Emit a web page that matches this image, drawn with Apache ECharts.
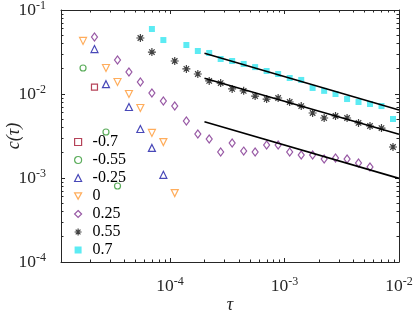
<!DOCTYPE html>
<html><head><meta charset="utf-8">
<script src="https://cdn.jsdelivr.net/npm/echarts@6/dist/echarts.min.js"></script>
<style>html,body{margin:0;padding:0;background:#fff}#c{width:415px;height:312px}</style>
</head><body><div id="c"></div>
<script>
// tau values (x), shared by all series
const tau = [1.74e-5,2.19e-5,2.76e-5,3.48e-5,4.38e-5,5.51e-5,6.95e-5,8.75e-5,1.10e-4,1.39e-4,1.75e-4,2.20e-4,2.77e-4,3.49e-4,4.40e-4,5.54e-4,6.98e-4,8.80e-4,1.11e-3,1.40e-3,1.76e-3,2.22e-3,2.79e-3,3.52e-3,4.43e-3,5.58e-3,7.03e-3,8.86e-3];
const N = null;
const c_m070 = [N,1.21e-2];
const c_m055 = [2.04e-2,N,3.53e-3,8.03e-4];
const c_m025 = [N,3.43e-2,1.31e-2,N,7.00e-3,3.83e-3,2.28e-3,1.09e-3];
const c_000  = [4.28e-2,N,2.04e-2,1.39e-2,1.0e-2,6.81e-3,3.44e-3,2.68e-3,6.62e-4];
const c_025  = [N,4.77e-2,N,2.54e-2,1.83e-2,1.39e-2,1.03e-2,8.26e-3,7.19e-3,4.77e-3,3.34e-3,2.91e-3,2.04e-3,2.61e-3,2.09e-3,2.04e-3,2.47e-3,2.47e-3,2.04e-3,1.88e-3,1.88e-3,1.68e-3,1.73e-3,1.68e-3,1.51e-3,1.35e-3];
const c_055  = [N,N,N,N,N,4.64e-2,3.16e-2,N,2.47e-2,1.99e-2,1.73e-2,1.43e-2,1.35e-2,1.15e-2,1.09e-2,9.46e-3,8.71e-3,8.96e-3,8.03e-3,7.19e-3,5.94e-3,5.18e-3,5.47e-3,5.18e-3,4.52e-3,4.16e-3,3.93e-3,2.34e-3];
const c_070  = [N,N,N,N,N,N,5.94e-2,4.39e-2,N,3.83e-2,3.25e-2,3.08e-2,2.61e-2,2.47e-2,2.28e-2,2.09e-2,1.88e-2,1.73e-2,1.55e-2,1.47e-2,1.18e-2,1.09e-2,1.0e-2,8.71e-3,8.03e-3,7.60e-3,7.19e-3,5.04e-3];
// power-law fit lines
const fitX = [2.0e-4, 1.0e-2];
const fitTop = [3.05e-2, 6.45e-3];
const fitMid = [1.54e-2, 3.31e-3];
const fitBot = [4.68e-3, 9.9e-4];
// tick values
const xMajor = [1e-4, 1e-3, 1e-2];
const yMajor = [1e-4, 1e-3, 1e-2, 1e-1];
const xMin = 1.117e-5, xMax = 1e-2, yMin = 1e-4, yMax = 1e-1;

function minors(lo, hi) {
  const out = [];
  for (let e = -6; e <= 0; e++) for (let m = 2; m <= 9; m++) {
    const v = m * Math.pow(10, e);
    if (v > lo * 1.0001 && v < hi * 0.9999) out.push(v);
  }
  return out;
}
function pairs(arr) {
  const out = [];
  arr.forEach((v, i) => { if (v !== null && v !== undefined) out.push([tau[i], v]); });
  return out;
}
function sup(v) {
  const e = Math.round(Math.log10(v));
  return '{b|10}{s|' + e + '}';
}
const AX = '#262626';
const rich = {
  b: {fontFamily: 'Liberation Serif', fontSize: 17.5, color: AX, lineHeight: 20},
  s: {fontFamily: 'Liberation Serif', fontSize: 12, color: AX, verticalAlign: 'top', lineHeight: 10}
};
function axis(kind, pos, min, max, vals, isMajor, labels) {
  return {
    type: 'log', logBase: 10, position: pos, min: min, max: max,
    axisLine: {show: isMajor, lineStyle: {color: AX, width: 1}},
    axisTick: {show: true, inside: true, length: isMajor ? 4 : 2.5, customValues: vals, lineStyle: {color: AX, width: 1}},
    axisLabel: {show: labels, customValues: vals, formatter: sup, rich: rich, fontSize: 17.5, fontFamily: 'Liberation Serif',
      margin: kind === 'x' ? 14 : 15},
    splitLine: {show: false}, minorTick: {show: false}
  };
}
const xMinor = minors(xMin, xMax), yMinor = minors(yMin, yMax);
const xAxes = [
  Object.assign(axis('x','bottom',xMin,xMax,xMajor,true,true), {name: 'τ', nameLocation: 'middle', nameGap: 34, nameMoveOverlap: false, nameTextStyle: {fontFamily: 'Liberation Serif', fontStyle: 'italic', fontSize: 18, color: AX}}),
  axis('x','bottom',xMin,xMax,xMinor,false,false),
  axis('x','top',xMin,xMax,xMajor,true,false),
  axis('x','top',xMin,xMax,xMinor,false,false)
];
const yAxes = [
  Object.assign(axis('y','left',yMin,yMax,yMajor,true,true), {name: 'c(τ)', nameLocation: 'middle', nameGap: 38, nameRotate: 90, nameMoveOverlap: false, nameTextStyle: {fontFamily: 'Liberation Serif', fontStyle: 'italic', fontSize: 18, color: AX}}),
  axis('y','left',yMin,yMax,yMinor,false,false),
  axis('y','right',yMin,yMax,yMajor,true,false),
  axis('y','right',yMin,yMax,yMinor,false,false)
];
const star = 'path://M0,5L10,5M5,0L5,10M1.6,1.6L8.4,8.4M8.4,1.6L1.6,8.4';
const triDown = 'path://M0,0L10,0L5,9Z';
const styles = {
  '-0.7':  {sym: 'rect', size: 6, color: '#a2142f', filled: false},
  '-0.55': {sym: 'circle', size: 6, color: '#339933', filled: false},
  '-0.25': {sym: 'triangle', size: 7, color: '#1a1aa6', filled: false},
  '0':     {sym: triDown, size: 7, color: '#ff9933', filled: false},
  '0.25':  {sym: 'diamond', size: [6, 8], color: '#7e2f8e', filled: false},
  '0.55':  {sym: star, size: 8, color: '#111', filled: false},
  '0.7':   {sym: 'rect', size: 6, color: '#33e6f0', filled: true}
};
function iStyle(s) {
  return s.filled ? {color: s.color, borderWidth: 0}
                  : {color: 'rgba(255,255,255,0)', borderColor: s.color, borderWidth: 1.2};
}
function sc(name, arr) {
  const s = styles[name];
  return {
    name: name, type: 'scatter', data: pairs(arr), symbol: s.sym, symbolSize: s.size,
    itemStyle: iStyle(s), emphasis: {disabled: true}, z: 3
  };
}
function fit(arr) {
  return {type: 'line', data: fitX.map((x, i) => [x, arr[i]]), showSymbol: false, symbol: 'none',
    lineStyle: {color: '#000', width: 1.6}, silent: true, z: 4};
}
const names = ['-0.7','-0.55','-0.25','0','0.25','0.55','0.7'];
const chart = echarts.init(document.getElementById('c'), null, {renderer: 'canvas'});
chart.setOption({
  animation: false,
  grid: {left: 61, right: 16, top: 10, bottom: 50, outerBoundsMode: 'none', containLabel: false},
  xAxis: xAxes, yAxis: yAxes,
  legend: {
    data: names.map(n => ({name: n, icon: styles[n].sym, itemStyle: iStyle(styles[n])})),
    orient: 'vertical', left: 69, top: 129, itemWidth: 7, itemHeight: 7, itemGap: 2.0,
    textStyle: {fontFamily: 'Liberation Serif', fontSize: 16, color: '#000', lineHeight: 16, padding: [0,0,0,6]},
    selectedMode: false
  },
  series: [
    sc('-0.7', c_m070), sc('-0.55', c_m055), sc('-0.25', c_m025), sc('0', c_000),
    sc('0.25', c_025), sc('0.55', c_055), sc('0.7', c_070),
    fit(fitTop), fit(fitMid), fit(fitBot)
  ]
});
</script></body></html>
